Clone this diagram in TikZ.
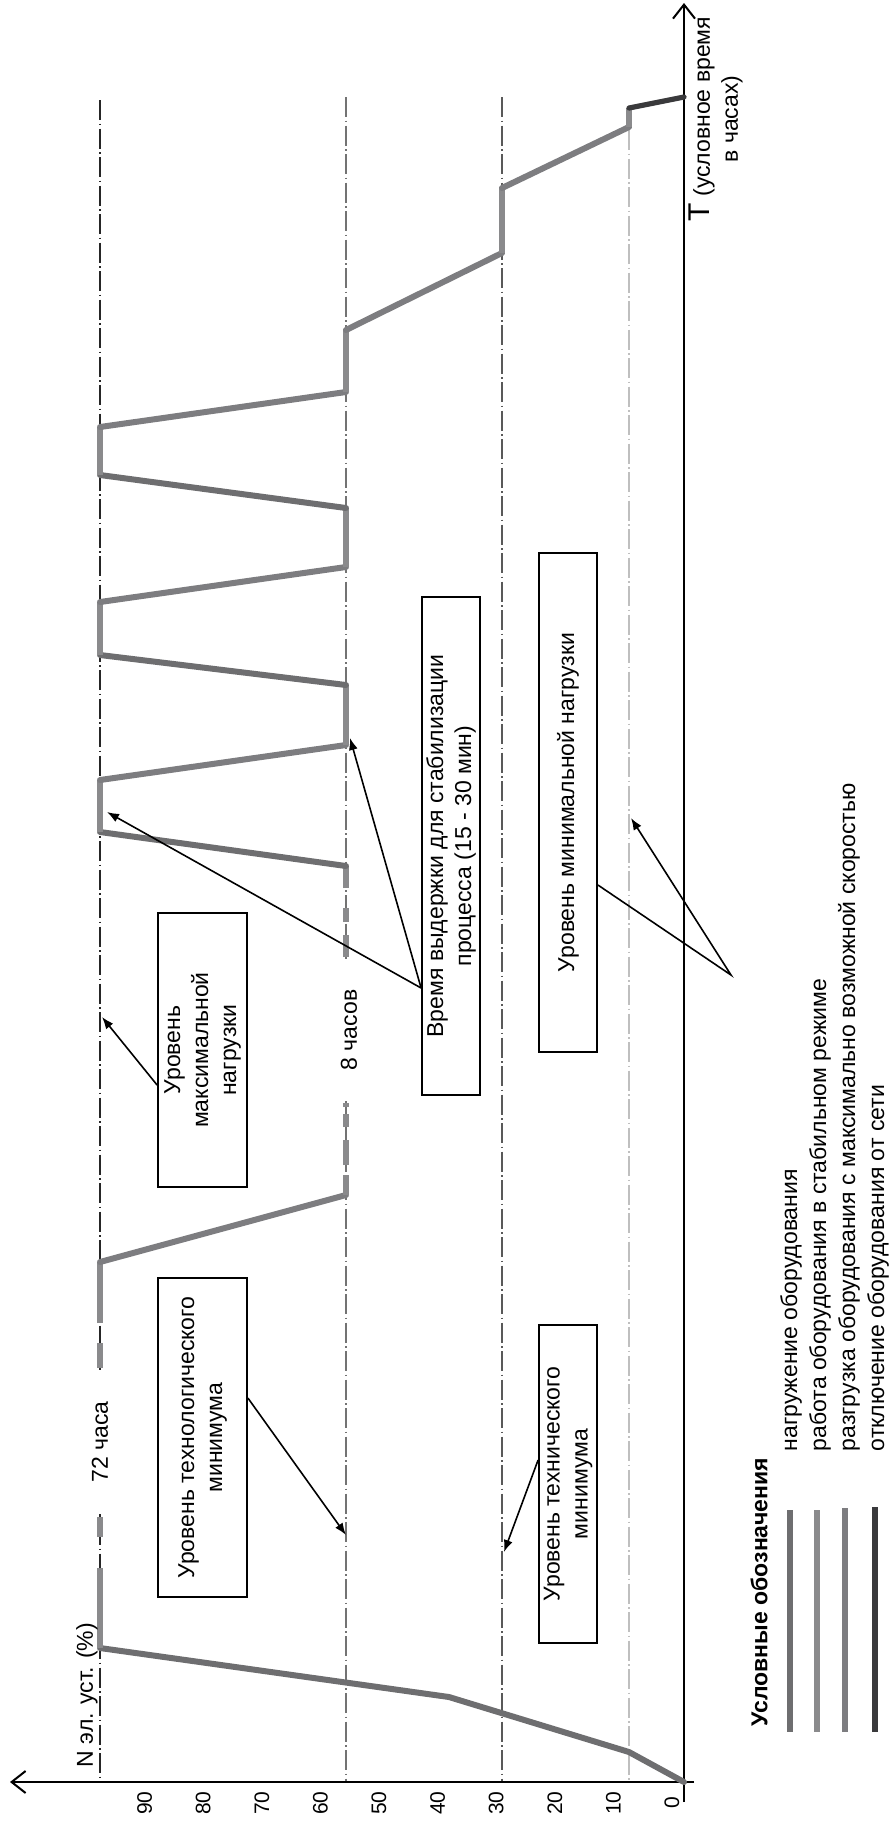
\documentclass[tikz,border=0pt]{standalone}
\usepackage{fontspec}
\setmainfont{Liberation Sans}
\usetikzlibrary{arrows.meta,calc}

\definecolor{loadgray}{RGB}{110,110,112}
\definecolor{workgray}{RGB}{138,138,140}
\definecolor{unloadgray}{RGB}{125,125,128}
\definecolor{offgray}{RGB}{58,58,60}

\tikzset{every picture/.style={line width=0.75pt}}
\tikzset{
	txt/.style={font=\fontsize{11.5}{14}\selectfont, rotate=90, inner sep=0pt},
	ticklbl/.style={font=\fontsize{10.5}{12}\selectfont, rotate=90, inner sep=0pt},
	labelbox/.style={txt, draw, line width=0.9pt, align=center},
	hourlbl/.style={txt, fill=white, minimum height=9pt},
	axisline/.style={line width=1pt, -{Straight Barb[length=7pt,width=11pt]}},
	levelline/.style={line width=0.8pt, dash pattern=on 10pt off 1.75pt on 0.75pt off 1.75pt},
	pointer/.style={line width=0.8pt, -{Latex[length=6pt,width=4.5pt]}},
	loadseg/.style={line width=3pt, draw=loadgray, line cap=round, line join=round},
	workseg/.style={line width=3pt, draw=workgray},
	unloadseg/.style={line width=3pt, draw=unloadgray, line cap=round},
	offseg/.style={line width=2.6pt, draw=offgray, line cap=round},
	legendline/.style={line width=3pt}
}

\begin{document}
\begin{tikzpicture}[x=0.5pt,y=0.5pt,yscale=-1,xscale=1]
	\useasboundingbox (0,0) rectangle (889,1821);

	%Straight Lines: load levels
	\draw[levelline, draw=black!85] (100,100) -- (100,1782);
	\draw[levelline, draw=black!55] (346,97) -- (346,1782);
	\draw[levelline, draw=black!65] (502,97) -- (502,1782);
	\draw[levelline, draw=black!25] (629,130) -- (629,1782);

	%Shape: Axis 2D
	\draw[axisline] (694,1782) -- (10,1782);
	\draw[axisline] (684,1802) -- (684,3);

	% Text Node: hours (drawn before the curve, white ground hides the level line)
	\node[hourlbl, minimum width=72pt] (h72) at (100,1442) {72 часа};
	\node[hourlbl, minimum width=71pt] (h8) at (349,1030) {8 часов};

	%Curve Lines: start-up
	\draw[loadseg] (684,1782) -- (629,1752) -- (449,1697) -- (100,1648);
	\draw[workseg] (100,1648) -- (100,1568);
	\draw[workseg] (100,1537) -- (100,1517);
	\draw[workseg] (100,1368) -- (100,1343);
	\draw[workseg] (100,1323) -- (100,1262);
	\draw[unloadseg] (100,1262) -- (346,1195);
	\draw[workseg] (346,1195) -- (346,1175);
	\draw[workseg] (346,1165) -- (346,1140);
	\draw[workseg] (346,1127) -- (346,1114);
	\draw[workseg] (346,1107) -- (346,1103);
	\draw[workseg] (346,957) -- (346,935);
	\draw[workseg] (346,922) -- (346,908);
	\draw[workseg] (346,888) -- (346,866);
	%Curve Lines: cycles
	\draw[loadseg] (346,866) -- (100,832);
	\draw[workseg] (100,832) -- (100,780);
	\draw[unloadseg] (100,780) -- (346,745);
	\draw[workseg] (346,745) -- (346,685);
	\draw[loadseg] (346,685) -- (100,655);
	\draw[workseg] (100,655) -- (100,602);
	\draw[unloadseg] (100,602) -- (346,567);
	\draw[workseg] (346,567) -- (346,508);
	\draw[loadseg] (346,508) -- (100,475);
	\draw[workseg] (100,475) -- (100,427);
	\draw[unloadseg] (100,427) -- (346,392);
	%Curve Lines: shut-down
	\draw[workseg] (346,392) -- (346,330);
	\draw[unloadseg] (346,330) -- (502,253);
	\draw[workseg] (502,253) -- (502,188);
	\draw[unloadseg] (502,188) -- (629,127);
	\draw[workseg] (629,127) -- (629,108);
	\draw[offseg] (629,108) -- (684,97);

	% Text Node: boxes
	\node[labelbox, minimum width=137pt, minimum height=44.5pt] (maxbox) at (202.5,1050) {Уровень\\максимальной\\нагрузки};
	\node[labelbox, minimum width=159.5pt, minimum height=44.5pt] (techbox) at (202.5,1437.5) {Уровень технологического\\минимума};
	\node[labelbox, minimum width=249pt, minimum height=29pt] (stabbox) at (451,846) {Время выдержки для стабилизации\\процесса (15 - 30 мин)};
	\node[labelbox, minimum width=159pt, minimum height=29pt] (tminbox) at (568,1484) {Уровень технического\\минимума};
	\node[labelbox, minimum width=249.5pt, minimum height=29pt] (minbox) at (568,802.5) {Уровень минимальной нагрузки};

	%Straight Lines: pointers
	\coordinate (maxtip) at (102,1017);
	\coordinate (techtip) at (346,1535);
	\coordinate (stabfrom) at ($(stabbox.north)+(0,142)$);
	\coordinate (stabtipa) at (107,812);
	\coordinate (stabtipb) at (350,738);
	\coordinate (tmintip) at (504,1552);
	\coordinate (apex) at (731,975);
	\coordinate (mintip) at (631,818);
	\draw[pointer] ($(maxbox.north)+(0,35)$) -- (maxtip);
	\draw[pointer] ($(techbox.south)+(0,-39.5)$) -- (techtip);
	\draw[pointer] (stabfrom) -- (stabtipa);
	\draw[pointer] (stabfrom) -- (stabtipb);
	\draw[pointer] ($(tminbox.north)+(0,-24)$) -- (tmintip);
	\draw[pointer] ($(minbox.south)+(0,82.5)$) -- (apex) -- (mintip);

	% Text Node: axes
	\node[txt] (nlabel) at (87,1695) {N эл. уст. (\%)};
	\node[txt, align=center] (tlabel) at (716,119) {{\fontsize{15}{14}\selectfont T} (условное время\\в часах)};

	% Text Node: ticks
	\node[ticklbl] (t0) at (672,1803) {0};
	\node[ticklbl] (t10) at (613.4,1803) {10};
	\node[ticklbl] (t20) at (554.8,1803) {20};
	\node[ticklbl] (t30) at (496.2,1803) {30};
	\node[ticklbl] (t40) at (437.6,1803) {40};
	\node[ticklbl] (t50) at (379,1803) {50};
	\node[ticklbl] (t60) at (320.4,1803) {60};
	\node[ticklbl] (t70) at (261.8,1803) {70};
	\node[ticklbl] (t80) at (203.2,1803) {80};
	\node[ticklbl] (t90) at (144.6,1803) {90};

	% Legend
	\node[txt, anchor=west, font=\fontsize{11.5}{14}\selectfont\bfseries] (legtitle) at (759,1727) {Условные обозначения};
	\draw[legendline, draw=loadgray] (790,1510) -- (790,1732);
	\draw[legendline, draw=workgray] (817,1510) -- (817,1732);
	\draw[legendline, draw=unloadgray] (845,1508) -- (845,1732);
	\draw[legendline, draw=offgray] (875,1507) -- (875,1732);
	\node[txt, anchor=west] (legload) at (791,1452) {нагружение оборудования};
	\node[txt, anchor=west] (legwork) at (820,1452) {работа оборудования в стабильном режиме};
	\node[txt, anchor=west] (legunload) at (849,1452) {разгрузка оборудования с максимально возможной скоростью};
	\node[txt, anchor=west] (legoff) at (878,1452) {отключение оборудования от сети};

\end{tikzpicture}
\end{document}
